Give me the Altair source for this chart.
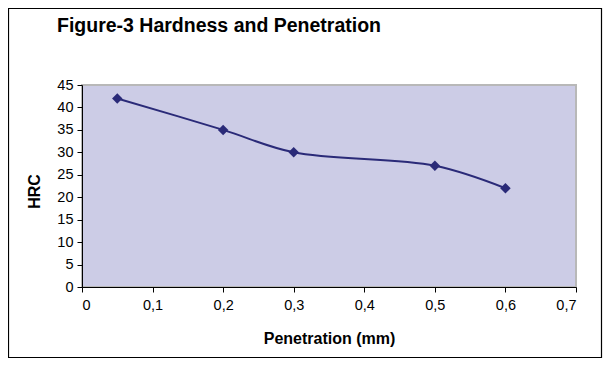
import altair as alt
import pandas as pd

penetration = [0.05, 0.2, 0.3, 0.5, 0.6]
hrc = [42, 35, 30, 27, 22]
x_ticks = [0, 0.1, 0.2, 0.3, 0.4, 0.5, 0.6, 0.7]
y_ticks = [0, 5, 10, 15, 20, 25, 30, 35, 40, 45]
title_text = ["Figure-3 Hardness and Penetration"]

df = pd.DataFrame({"Penetration": penetration, "HRC": hrc})
one = pd.DataFrame({"t": title_text})

FONT = "Liberation Sans"
LINE = "#2A2A78"
W, H = 494, 202
PL, PT, PR, PB = 74, 77, 27, 72

x_enc = alt.X(
    "Penetration:Q",
    scale=alt.Scale(domain=[0, 0.7], nice=False, zero=False),
    axis=alt.Axis(
        values=x_ticks,
        title="Penetration (mm)",
        labelExpr="datum.value == 0 ? '0' : replace(format(datum.value, '.1f'), '.', ',')",
        labelOverlap=False,
        titleY=56,
        titleBaseline="alphabetic",
    ),
)
y_enc = alt.Y(
    "HRC:Q",
    scale=alt.Scale(domain=[0, 45], nice=False),
    axis=alt.Axis(
        values=y_ticks,
        title="HRC",
        labelOverlap=False,
        titleX=-48,
        titleY=106,
        titleAngle=270,
        titleAlign="center",
        titleBaseline="middle",
    ),
)

base = alt.Chart(df)
line = base.mark_line(interpolate="catmull-rom", color=LINE, strokeWidth=2).encode(x=x_enc, y=y_enc)
pts = base.mark_point(shape="diamond", filled=True, size=110, color=LINE, opacity=1).encode(
    x=x_enc, y=y_enc
)
frame = alt.Chart(one).mark_rect(filled=False, stroke="black", strokeWidth=1.2).encode(
    x=alt.value(-PL + 0.5), x2=alt.value(W + PR - 1.5),
    y=alt.value(-PT + 0.5), y2=alt.value(H + PB - 1.5),
)
title = alt.Chart(one).mark_text(
    align="left", baseline="alphabetic", font=FONT, fontSize=19.5, fontWeight="bold", color="black"
).encode(text="t:N", x=alt.value(-25), y=alt.value(-53))

chart = (
    alt.layer(line, pts, frame, title)
    .properties(
        width=W,
        height=H,
        autosize=alt.AutoSizeParams(type="none"),
        padding={"left": PL, "top": PT, "right": PR, "bottom": PB},
    )
    .configure_view(fill="#CCCCE6", stroke="#B8B8B8", strokeWidth=2)
    .configure_axis(
        grid=False,
        domainColor="black",
        domainWidth=1,
        tickColor="black",
        tickSize=5,
        labelFont=FONT,
        labelFontSize=14.5,
        labelColor="black",
        labelOverlap=False,
        titleFont=FONT,
        titleFontSize=16,
        titleFontWeight="bold",
        titleColor="black",
    )
    .configure_axisX(labelPadding=6)
    .configure_axisY(labelPadding=4)
)

chart.save("out.html", embed_options={"renderer": "svg", "actions": False})
